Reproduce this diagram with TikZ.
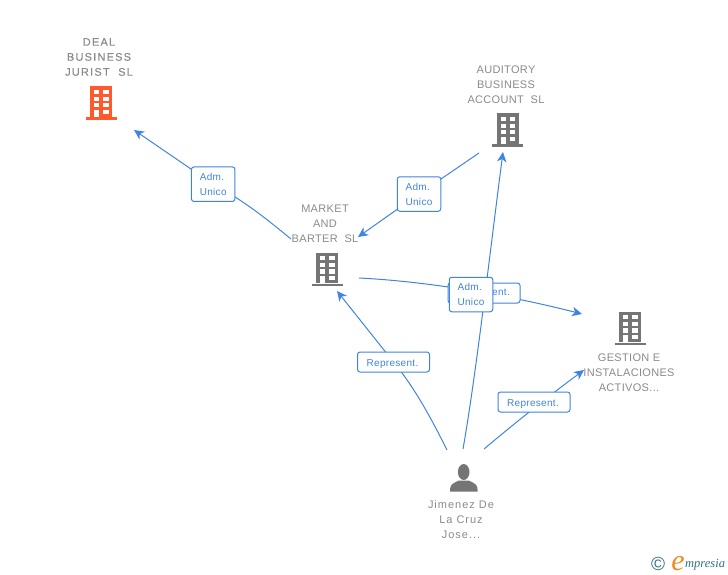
\documentclass[tikz,border=0pt]{standalone}
\usepackage{fontspec}
\setmainfont{Liberation Sans}
\newfontfamily\logofont{Liberation Serif}
\usetikzlibrary{backgrounds,arrows.meta}
\definecolor{linkblue}{HTML}{3F84E0}
\definecolor{labelgray}{HTML}{8A8A8A}
\definecolor{icongray}{HTML}{757575}
\definecolor{iconorange}{HTML}{FF5A2B}
\definecolor{logoteal}{HTML}{2F6F86}
\definecolor{logoorange}{HTML}{F08A24}
\tikzset{
  x=1pt,y=-1pt,
  link/.style={draw=linkblue,line width=1pt},
  arrowlink/.style={link,-{Stealth[length=10pt,width=9.5pt,inset=3pt]}},
  tagbox/.style={draw=linkblue,line width=1pt,fill=white,rounded corners=2.5pt,
    text=linkblue,font=\fontsize{10}{15}\selectfont\addfontfeature{LetterSpace=3},inner sep=0pt},
  admbox/.style={tagbox,align=left,minimum width=43.5pt,minimum height=34.5pt},
  repbox/.style={tagbox,align=center,minimum width=72pt,minimum height=20pt},
  orgname/.style={text=labelgray,font=\fontsize{11}{15}\selectfont\addfontfeature{LetterSpace=3},align=center,inner sep=0pt},
  building/.pic={
    \fill (-11,-16.5) rectangle (11.3,14);
    \fill (-15.5,14.5) rectangle (15.7,17);
    \fill[white] (-7,-13) rectangle (-1.7,-8.7);
    \fill[white] (2.3,-13) rectangle (7.7,-8.7);
    \fill[white] (-7,-6.4) rectangle (-1.7,-2.1);
    \fill[white] (2.3,-6.4) rectangle (7.7,-2.1);
    \fill[white] (-7,0.2) rectangle (-1.7,4.5);
    \fill[white] (2.3,0.2) rectangle (7.7,4.5);
    \fill[white] (-7,6.8) rectangle (-1.7,14);
    \fill[white] (2.3,6.8) rectangle (7.7,11.1);
  },
}
\begin{document}
\begin{tikzpicture}
\useasboundingbox (0,0) rectangle (728,575);
% organisation names
\node[orgname,font=\fontsize{11}{15}\selectfont\addfontfeature{LetterSpace=11,FakeBold=0.2}] (dealname) at (99,57) {DEAL\\BUSINESS\\JURIST\ \ SL};
\node[orgname] (audname) at (506,85) {AUDITORY\\BUSINESS\\ACCOUNT\ \ SL};
\node[orgname] (mktname) at (325,224) {MARKET\\AND\\BARTER\ \ SL};
\node[orgname] (gesname) at (629,373) {GESTION E\\INSTALACIONES\\ACTIVOS...};
\node[orgname,font=\fontsize{11}{15}\selectfont\addfontfeature{LetterSpace=9}] (jimname) at (461,520) {Jimenez De\\La Cruz\\Jose...};
% icons
\pic[color=iconorange,fill=iconorange] at (101,103) {building};
\pic[color=icongray,fill=icongray] at (507.5,130) {building};
\pic[color=icongray,fill=icongray] at (327,269) {building};
\pic[color=icongray,fill=icongray] at (630,328) {building};
\fill[icongray] (463.7,472) ellipse (5.8 and 8);
\fill[icongray] (450,491.7) .. controls (450,485) and (451,484) .. (459,480.5)
  -- (468.5,480.5) .. controls (476.5,484) and (477.7,485) .. (477.7,491.7) -- cycle;
% labels
\node[repbox] (repb) at (484,293) {Represent.};
\node[admbox] (adm1) at (213.2,184.2) {Adm.\\Unico};
\node[admbox] (adm2) at (419,194) {Adm.\\Unico};
\node[admbox] (adm3) at (471,294.5) {Adm.\\Unico};
\node[repbox] (rep1) at (393.5,362) {\rule{0pt}{11.5pt}Represent.\hspace{2pt}};
\node[repbox] (rep2) at (534,402) {\rule{0pt}{11.5pt}Represent.\hspace{2pt}};
% free ends
\coordinate (mktout1) at (291,239);
\coordinate (dealin) at (134,130);
\coordinate (audout) at (479,153);
\coordinate (mktin1) at (358,237);
\coordinate (mktout2) at (359,278);
\coordinate (gesin1) at (582,314);
\coordinate (jim1) at (447,450);
\coordinate (mktin2) at (337,291);
\coordinate (jim2) at (463,449);
\coordinate (audin) at (503,152);
\coordinate (jim3) at (484,449);
\coordinate (gesin2) at (584,370);
\begin{scope}[on background layer]
  \draw[link] (mktout1) .. controls (270,222) and (248,203) .. (adm1.center);
  \draw[arrowlink] (adm1.center) -- (dealin);
  \draw[link] (audout) -- (adm2.center);
  \draw[arrowlink] (adm2.center) -- (mktin1);
  \draw[arrowlink] (mktout2) .. controls (420,281) and (500,293) .. (gesin1);
  \draw[link] (jim1) .. controls (432,420) and (415,388) .. (rep1.center);
  \draw[arrowlink] (rep1.center) -- (mktin2);
  \draw[arrowlink] (jim2) .. controls (476,375) and (489,260) .. (audin);
  \draw[arrowlink] (jim3) .. controls (515,423) and (550,395) .. (gesin2);
\end{scope}
% logo
\node[text=logoteal,font=\fontsize{19}{19}\selectfont,inner sep=0pt] (logoc) at (658,564) {©};
\node[text=logoorange,font=\logofont\itshape\fontsize{30}{30}\selectfont,inner sep=0pt,anchor=base] (logoe) at (678,570) {e};
\node[text=logoteal,font=\logofont\itshape\fontsize{12.5}{13}\selectfont,inner sep=0pt,anchor=base west] (logot) at (685,567) {mpresia};
\end{tikzpicture}
\end{document}
